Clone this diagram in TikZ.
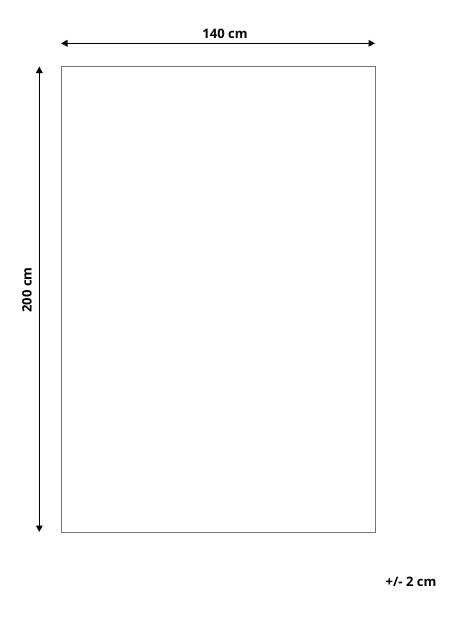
\documentclass[tikz,border=0pt]{standalone}
\usepackage{fontspec}
\setmainfont{Open Sans}
\usetikzlibrary{arrows.meta}
\begin{document}
\begin{tikzpicture}[x=1pt,y=-1pt,
  dim/.style={line width=1.5pt,black,{Triangle[length=6.5pt,width=6.5pt]}-{Triangle[length=6.5pt,width=6.5pt]}},
  lbl/.style={font=\bfseries\fontsize{13}{15}\selectfont,inner sep=0pt},
  rug/.style={draw=black!55,line width=0.9pt}]
\useasboundingbox (0,0) rectangle (463,619);
\node[rug,minimum width=314pt,minimum height=466pt,inner sep=0pt] (rug) at (218,299.5) {};
\coordinate (hl) at (61,43.3);
\coordinate (hr) at (375,43.3);
\draw[dim] (hl) -- (hr);
\node[lbl] (w) at (225,33.5) {140 cm};
\coordinate (vt) at (39.3,66.5);
\coordinate (vb) at (39.3,532);
\draw[dim] (vt) -- (vb);
\node[lbl,rotate=90] (h) at (27,290) {200 cm};
\node[lbl] (tol) at (411,581.5) {+/- 2 cm};
\end{tikzpicture}
\end{document}
